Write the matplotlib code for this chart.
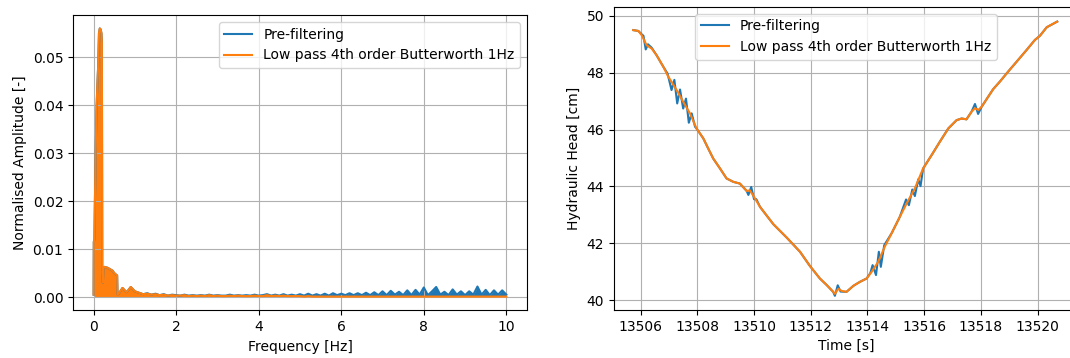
import matplotlib
matplotlib.use("Agg")
import matplotlib.pyplot as plt

# --- spectrum (left panel) ---
# low-frequency part is identical before/after the 1 Hz low pass
freq_low = [0.0, 0.005, 0.02, 0.03, 0.05, 0.07, 0.09, 0.11, 0.13, 0.15, 0.17, 0.19, 0.20,
            0.21, 0.225, 0.24, 0.26, 0.30, 0.34, 0.38, 0.42, 0.46, 0.50, 0.54, 0.57, 0.58]
amp_low = [0.0005, 0.0115, 0.0120, 0.0190, 0.0300, 0.0390, 0.0440, 0.0480, 0.0550, 0.0560, 0.0558,
           0.0550, 0.0530, 0.0050, 0.0030, 0.0062, 0.0063, 0.0062, 0.0061, 0.0059, 0.0057, 0.0055,
           0.0050, 0.0047, 0.0045, 0.0006]

freq_high = [0.6, 0.7, 0.8, 0.9, 1.0, 1.1, 1.2, 1.3, 1.4, 1.5,
             1.6, 1.7, 1.8, 1.9, 2.0, 2.1, 2.2, 2.3, 2.4, 2.5,
             2.6, 2.7, 2.8, 2.9, 3.0, 3.1, 3.2, 3.3, 3.4, 3.5,
             3.6, 3.7, 3.8, 3.9, 4.0, 4.1, 4.2, 4.3, 4.4, 4.5,
             4.6, 4.7, 4.8, 4.9, 5.0, 5.1, 5.2, 5.3, 5.4, 5.5,
             5.6, 5.7, 5.8, 5.9, 6.0, 6.1, 6.2, 6.3, 6.4, 6.5,
             6.6, 6.7, 6.8, 6.9, 7.0, 7.1, 7.2, 7.3, 7.4, 7.5,
             7.6, 7.7, 7.8, 7.9, 8.0, 8.1, 8.2, 8.3, 8.4, 8.5,
             8.6, 8.7, 8.8, 8.9, 9.0, 9.1, 9.2, 9.3, 9.4, 9.5,
             9.6, 9.7, 9.8, 9.9, 10.0]
amp_pre_high = [0.0006, 0.0019, 0.0010, 0.0021, 0.0012, 0.0009, 0.0006, 0.0008, 0.0005, 0.0007,
                0.0004, 0.0006, 0.0003, 0.0005, 0.0004, 0.0003, 0.0005, 0.0003, 0.0004, 0.0003,
                0.0004, 0.0003, 0.0005, 0.0003, 0.0004, 0.0003, 0.0003, 0.0005, 0.0003, 0.0004,
                0.0003, 0.0004, 0.0003, 0.0005, 0.0003, 0.0004, 0.0006, 0.0003, 0.0005, 0.0003,
                0.0006, 0.0003, 0.0005, 0.0003, 0.0006, 0.0003, 0.0007, 0.0003, 0.0006, 0.0003,
                0.0007, 0.0003, 0.0008, 0.0004, 0.0007, 0.0004, 0.0008, 0.0004, 0.0008, 0.0004,
                0.0009, 0.0004, 0.0010, 0.0004, 0.0012, 0.0004, 0.0013, 0.0005, 0.0011, 0.0004,
                0.0014, 0.0004, 0.0015, 0.0005, 0.0020, 0.0004, 0.0012, 0.0021, 0.0005, 0.0011,
                0.0004, 0.0016, 0.0005, 0.0012, 0.0004, 0.0012, 0.0005, 0.0022, 0.0005, 0.0015,
                0.0004, 0.0014, 0.0005, 0.0014, 0.0005]
amp_filt_high = [0.0006, 0.0019, 0.0010, 0.0021, 0.0012, 0.0009, 0.0006, 0.0007, 0.0005, 0.0006,
                 0.0004, 0.0005, 0.0003, 0.0004, 0.0003, 0.0003, 0.0004, 0.0002, 0.0003, 0.0002,
                 0.0003, 0.0002, 0.0004, 0.0002, 0.0003, 0.0002, 0.0002, 0.0003, 0.0002, 0.0003,
                 0.0002, 0.0002, 0.0002, 0.0003, 0.0002, 0.0002, 0.0004, 0.0002, 0.0003, 0.0002,
                 0.0003, 0.0002, 0.0002, 0.0002, 0.0002, 0.0001, 0.0002, 0.0001, 0.0001, 0.0001,
                 0.0001, 0.0001, 0.0001, 0.0001, 0.0001, 0.0001, 0.0001, 0.0001, 0.0001, 0.0001,
                 0.0001, 0.0001, 0.0001, 0.0001, 0.0001, 0.0001, 0.0001, 0.0001, 0.0001, 0.0001,
                 0.0001, 0.0001, 0.0001, 0.0001, 0.0001, 0.0001, 0.0001, 0.0001, 0.0001, 0.0001,
                 0.0001, 0.0001, 0.0001, 0.0001, 0.0001, 0.0001, 0.0001, 0.0001, 0.0001, 0.0001,
                 0.0001, 0.0001, 0.0001, 0.0001, 0.0001]

# --- time series (right panel) ---
time_pre = [13505.74, 13505.92, 13506.04, 13506.10, 13506.18, 13506.26, 13506.39, 13506.56,
            13506.80, 13506.95, 13507.09, 13507.19, 13507.29, 13507.39, 13507.50, 13507.60,
            13507.70, 13507.80, 13507.92, 13507.97, 13508.21, 13508.38, 13508.56, 13508.80,
            13509.03, 13509.27, 13509.50, 13509.74, 13509.80, 13509.90, 13510.00, 13510.08,
            13510.21, 13510.44, 13510.68, 13511.15, 13511.62, 13511.97, 13512.32, 13512.56,
            13512.79, 13512.85, 13512.95, 13513.05, 13513.26, 13513.50, 13513.73, 13513.97,
            13514.10, 13514.18, 13514.30, 13514.40, 13514.47, 13514.59, 13514.85, 13515.14,
            13515.36, 13515.46, 13515.58, 13515.67, 13515.79, 13515.87, 13515.96, 13516.26,
            13516.55, 13516.85, 13517.14, 13517.32, 13517.49, 13517.67, 13517.79, 13517.90,
            13518.03, 13518.20, 13518.43, 13518.67, 13518.96, 13519.26, 13519.61, 13519.90,
            13520.08, 13520.32, 13520.69]
head_pre = [49.50, 49.47, 49.35, 49.30, 48.82, 49.00, 48.88, 48.62,
            48.21, 47.97, 47.39, 47.75, 46.92, 47.41, 46.74, 47.09,
            46.24, 46.57, 46.10, 46.04, 45.69, 45.34, 44.98, 44.63,
            44.28, 44.16, 44.10, 43.84, 43.70, 43.98, 43.55, 43.55,
            43.28, 42.98, 42.67, 42.20, 41.70, 41.20, 40.76, 40.53,
            40.29, 40.15, 40.52, 40.30, 40.29, 40.50, 40.64, 40.76,
            40.95, 41.23, 40.88, 41.70, 41.17, 41.93, 42.35, 42.93,
            43.54, 43.34, 43.89, 43.66, 44.25, 44.01, 44.63, 45.10,
            45.57, 46.04, 46.33, 46.39, 46.36, 46.63, 46.90, 46.55,
            46.81, 47.07, 47.42, 47.69, 48.04, 48.39, 48.80, 49.15,
            49.30, 49.60, 49.80]

time_filt = [13505.74, 13505.92, 13506.04, 13506.21, 13506.39, 13506.56, 13506.80, 13506.97,
             13507.27, 13507.50, 13507.74, 13507.97, 13508.21, 13508.38, 13508.56, 13508.80,
             13509.03, 13509.27, 13509.50, 13509.74, 13509.85, 13509.97, 13510.21, 13510.44,
             13510.68, 13511.15, 13511.62, 13511.97, 13512.32, 13512.56, 13512.79, 13512.85,
             13512.97, 13513.09, 13513.26, 13513.50, 13513.73, 13513.97, 13514.15, 13514.38,
             13514.61, 13514.85, 13515.14, 13515.38, 13515.67, 13515.96, 13516.26, 13516.55,
             13516.85, 13517.14, 13517.32, 13517.49, 13517.67, 13517.79, 13517.91, 13518.03,
             13518.20, 13518.43, 13518.67, 13518.96, 13519.26, 13519.61, 13519.90, 13520.08,
             13520.32, 13520.69]
head_filt = [49.50, 49.47, 49.32, 48.97, 48.85, 48.62, 48.21, 47.87,
             47.39, 46.98, 46.57, 46.04, 45.69, 45.34, 44.98, 44.63,
             44.28, 44.16, 44.10, 43.84, 43.86, 43.68, 43.28, 42.98,
             42.67, 42.20, 41.70, 41.20, 40.76, 40.53, 40.29, 40.22,
             40.40, 40.32, 40.29, 40.50, 40.64, 40.76, 41.00, 41.35,
             41.88, 42.35, 42.93, 43.40, 43.93, 44.63, 45.10, 45.57,
             46.04, 46.33, 46.39, 46.36, 46.63, 46.75, 46.69, 46.81,
             47.07, 47.42, 47.69, 48.04, 48.39, 48.80, 49.15, 49.30,
             49.60, 49.80]

label_pre = 'Pre-filtering'
label_filt = 'Low pass 4th order Butterworth 1Hz'

fig = plt.figure(figsize=(10.7, 3.58), dpi=100)
ax1 = fig.add_axes([0.0682, 0.1327, 0.4243, 0.8254])
ax2 = fig.add_axes([0.5738, 0.134, 0.4336, 0.847])

freq = freq_low + freq_high
amp_pre = amp_low + amp_pre_high
amp_filt = amp_low + amp_filt_high

# dense FFT looks like a filled comb, so fill under each curve
ax1.plot(freq, amp_pre, color='tab:blue', label=label_pre)
ax1.fill_between(freq, 0, amp_pre, color='tab:blue', lw=0)
ax1.plot(freq, amp_filt, color='tab:orange', label=label_filt)
ax1.fill_between(freq, 0, amp_filt, color='tab:orange', lw=0)
ax1.set_xlim(-0.5, 10.5)
ax1.set_ylim(-0.0028, 0.0588)
ax1.set_xticks([0, 2, 4, 6, 8, 10])
ax1.set_yticks([0.0, 0.01, 0.02, 0.03, 0.04, 0.05])
ax1.set_xlabel('Frequency [Hz]')
ax1.set_ylabel('Normalised Amplitude [-]')
ax1.grid()
ax1.legend(loc='upper right', handles=ax1.get_lines())

ax2.plot(time_pre, head_pre, color='tab:blue', label=label_pre)
ax2.plot(time_filt, head_filt, color='tab:orange', label=label_filt)
ax2.set_xlim(13505.06, 13521.42)
ax2.set_ylim(39.65, 50.32)
ax2.set_xticks([13506, 13508, 13510, 13512, 13514, 13516, 13518, 13520])
ax2.set_yticks([40, 42, 44, 46, 48, 50])
ax2.ticklabel_format(useOffset=False)
ax2.set_xlabel('Time [s]')
ax2.set_ylabel('Hydraulic Head [cm]')
ax2.grid()
ax2.legend(loc='upper center')

fig.savefig('out.png', dpi=100)
